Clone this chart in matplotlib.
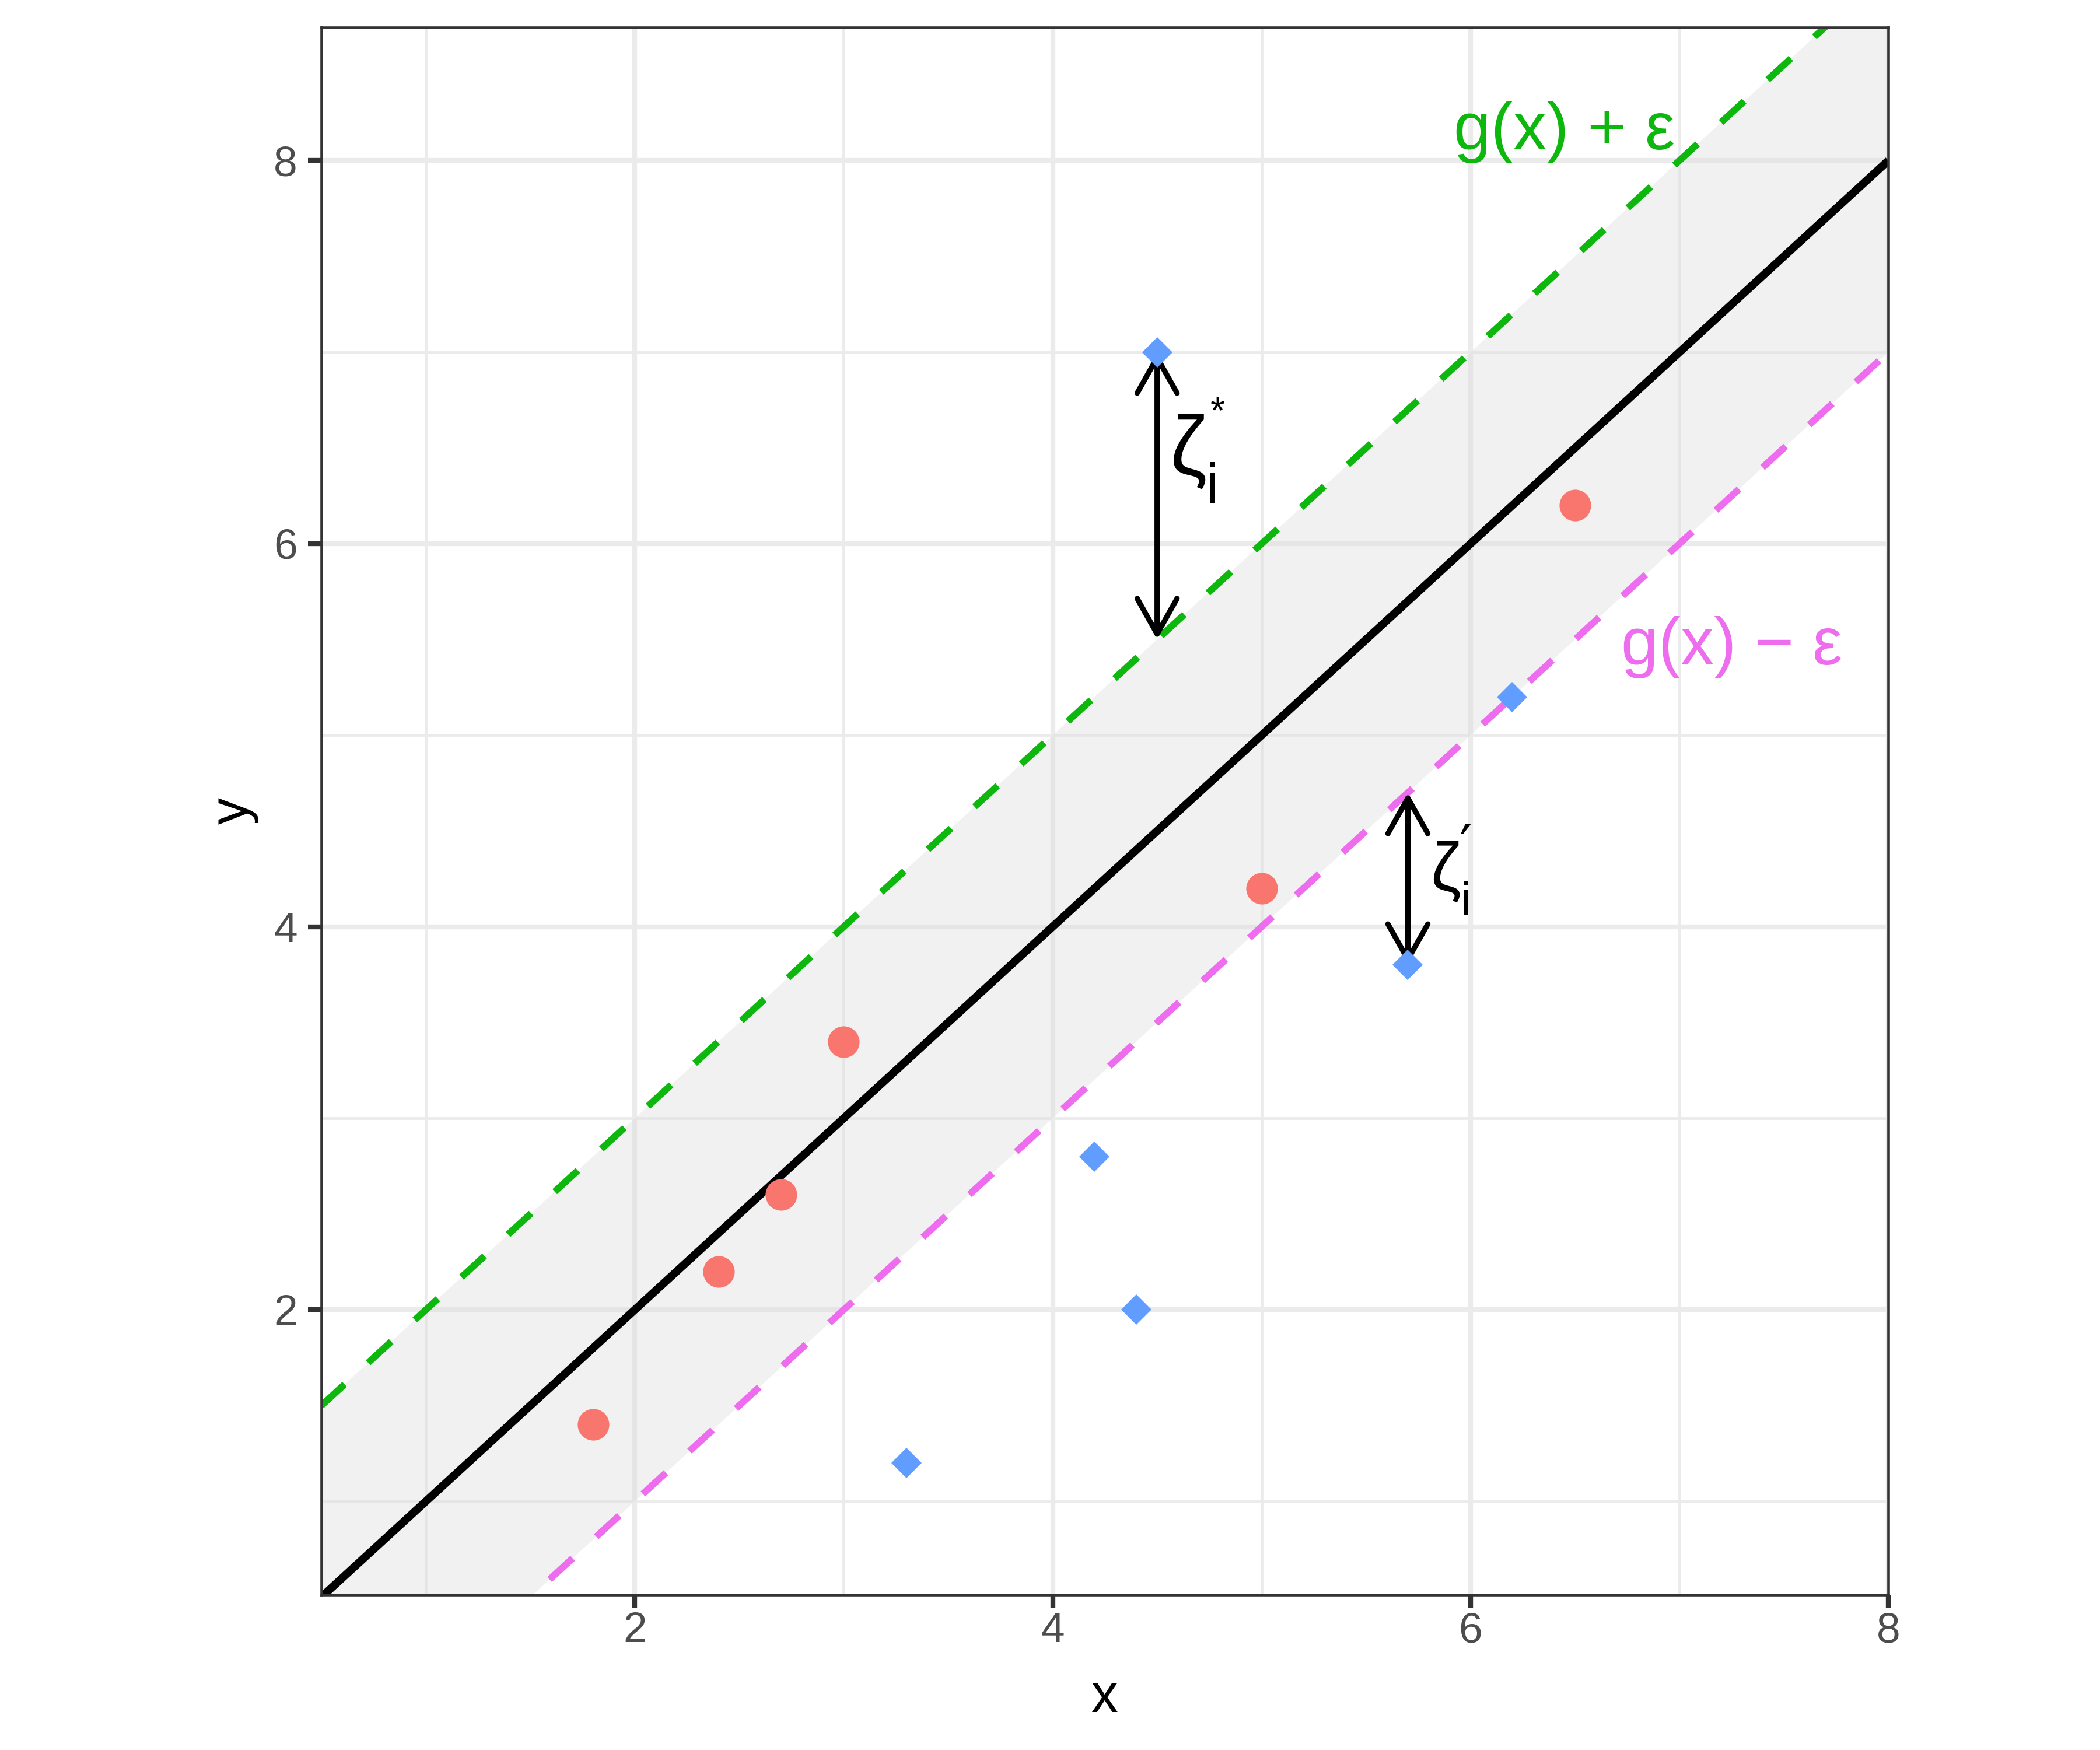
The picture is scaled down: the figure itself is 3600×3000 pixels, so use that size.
import numpy as np
import matplotlib
matplotlib.use("Agg")
import matplotlib.pyplot as plt
from matplotlib.patches import ArrowStyle
from matplotlib.textpath import TextPath
from matplotlib.font_manager import FontProperties
from matplotlib.path import Path

plt.rcParams['font.family'] = ['Liberation Sans', 'DejaVu Sans']

# ---- data ----
red_x = [1.8, 2.4, 2.7, 3.0, 5.0, 6.5]
red_y = [1.4, 2.2, 2.6, 3.4, 4.2, 6.2]
blue_x = [3.3, 4.2, 4.4, 4.5, 5.7, 6.2]
blue_y = [1.2, 2.8, 2.0, 7.0, 3.8, 5.2]

slope = 1.0
intercept = 0.0
epsilon = 1.0
x_range = [0.5, 8.0]

arrow_x = [4.5, 5.7]
arrow_from = [7.0, 3.8]
arrow_to = [5.5, 4.7]

x_ticks = [2, 4, 6, 8]
x_minor = [1, 3, 5, 7]
y_ticks = [2, 4, 6, 8]
y_minor = [1, 3, 5, 7]

# ---- colours ----
RED = '#F8766D'
BLUE = '#619CFF'
GREEN = '#0DB70D'
PINK = '#EE6CEE'

W, H, DPI = 12, 10, 300
fig = plt.figure(figsize=(W, H), dpi=DPI)
AX_RECT = [0.1531, 0.0887, 0.7461, 0.8957]
ax = fig.add_axes(AX_RECT)

XLIM = (0.5, 8.0)
YLIM = (0.512, 8.696)
ax.set_xlim(*XLIM)
ax.set_ylim(*YLIM)

# pixel (from top-left of the 3600x3000 image) -> data
PX_LEFT = AX_RECT[0] * W * DPI
PX_RIGHT = (AX_RECT[0] + AX_RECT[2]) * W * DPI
PX_TOP = (1 - AX_RECT[1] - AX_RECT[3]) * H * DPI
PX_BOTTOM = (1 - AX_RECT[1]) * H * DPI


def px2x(px):
    return XLIM[0] + (px - PX_LEFT) / (PX_RIGHT - PX_LEFT) * (XLIM[1] - XLIM[0])


def px2y(py):
    return YLIM[1] - (py - PX_TOP) / (PX_BOTTOM - PX_TOP) * (YLIM[1] - YLIM[0])


PX_PER_PT = DPI / 72.0


def ink_extent(s, family):
    tp = TextPath((0, 0), s, size=1, prop=FontProperties(family=family))
    v = tp.vertices
    c = tp.codes
    if c is not None:
        keep = (c != Path.CLOSEPOLY) & (c != Path.STOP)
        v = v[keep]
    return v[:, 0].min(), v[:, 1].min(), v[:, 0].max(), v[:, 1].max()


def put_glyph(s, cx_px, bottom_px, height_px, family='Liberation Sans',
              color='black'):
    x0, y0, x1, y1 = ink_extent(s, family)
    fs = height_px / ((y1 - y0) * PX_PER_PT)
    base_px = bottom_px + y0 * fs * PX_PER_PT
    ax.text(px2x(cx_px), px2y(base_px), s, fontsize=fs, family=family,
            color=color, ha='center', va='baseline', zorder=6)


# grid
ax.set_xticks(x_ticks)
ax.set_yticks(y_ticks)
ax.set_xticks(x_minor, minor=True)
ax.set_yticks(y_minor, minor=True)
ax.grid(True, which='major', color='#EBEBEB', lw=2.0, zorder=0)
ax.grid(True, which='minor', color='#EBEBEB', lw=1.15, zorder=0)
ax.set_axisbelow(True)

xs = np.array(x_range)
g = slope * xs + intercept

# band
ax.fill_between(xs, g - epsilon, g + epsilon, color='#DEDEDE', alpha=0.4,
                lw=0, zorder=1)

# lines
ax.plot(xs, g + epsilon, color=GREEN, lw=2.8, ls=(0, (4.6, 4.7)),
        dash_capstyle='butt', zorder=2)
ax.plot(xs, g - epsilon, color=PINK, lw=2.8, ls=(0, (4.6, 4.7)),
        dash_capstyle='butt', zorder=2)
ax.plot(xs, g, color='black', lw=3.3, solid_capstyle='butt', zorder=3)

# arrows
style = ArrowStyle('<->', head_length=14.6, head_width=8.2)
for a_x, y0, y1 in zip(arrow_x, arrow_from, arrow_to):
    ax.annotate('', xy=(a_x, y1), xytext=(a_x, y0),
                arrowprops=dict(arrowstyle=style, mutation_scale=1,
                                lw=2.2, color='black',
                                shrinkA=0, shrinkB=0),
                zorder=4)

# points
ax.plot(red_x, red_y, 'o', ms=13, color=RED, mew=0, zorder=5)
ax.plot(blue_x, blue_y, 'D', ms=8.8, color=BLUE, mew=0, zorder=5)

# labels
ax.text(6.45, 8.15, 'g(x) + \u03b5', color=GREEN, fontsize=27.5,
        ha='center', va='center', zorder=6)
ax.text(7.25, 5.46, 'g(x) \u2212 \u03b5', color=PINK, fontsize=27.5,
        ha='center', va='center', zorder=6)

# zeta_i^*  (glyph by glyph, like plotmath)
put_glyph('\u03b6', 2037.5, 838.0, 128.0)
put_glyph('i', 2078.0, 862.0, 70.0)
put_glyph('*', 2087.0, 703.0, 22.6)
# zeta_i^prime
put_glyph('\u03b6', 2477.5, 1546.7, 105.0)
put_glyph('i', 2512.5, 1567.7, 58.3)
put_glyph('\u2032', 2512.0, 1430.7, 18.0, family='DejaVu Sans')

# spines / ticks
for s in ax.spines.values():
    s.set_color('#333333')
    s.set_linewidth(1.1)
    s.set_zorder(7)
ax.tick_params(which='major', length=5.5, width=2.0, color='#333333',
               labelsize=17.6, labelcolor='#4D4D4D')
ax.tick_params(axis='x', which='major', pad=1.5)
ax.tick_params(axis='y', which='major', pad=4.4)
ax.tick_params(which='minor', length=0)
ax.set_xticklabels([str(t) for t in x_ticks])
ax.set_yticklabels([str(t) for t in y_ticks])

ax.set_xlabel('x', fontsize=22, color='black')
ax.set_ylabel('y', fontsize=22, color='black')
ax.xaxis.label.set_va('baseline')
ax.yaxis.label.set_va('baseline')
ax.xaxis.set_label_coords(0.5, -0.0748)
ax.yaxis.set_label_coords(-0.0469, 0.5)

fig.savefig('out.png', dpi=DPI, facecolor='white')
